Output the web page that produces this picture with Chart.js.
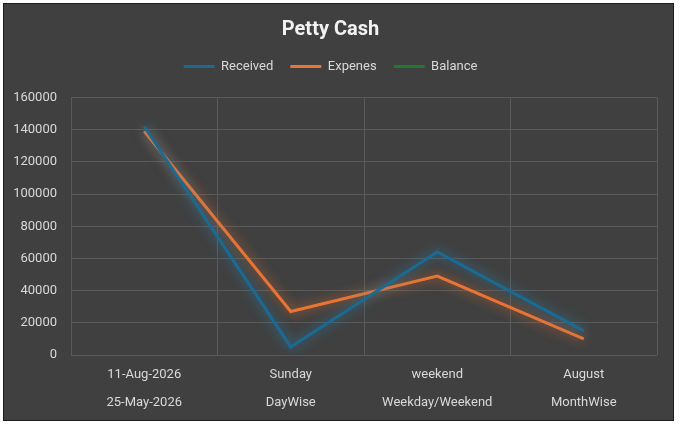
<!DOCTYPE html>
<html>
<head>
<meta charset="utf-8">
<script src="https://cdn.jsdelivr.net/npm/chart.js@4"></script>
<style>
  html, body { margin: 0; padding: 0; background: #ffffff; }
  #frame {
    position: absolute; left: 3px; top: 3px;
    width: 669px; height: 416px;
    background: #404040; border: 1px solid #1c1c1c;
  }
  #wrap { position: absolute; left: 0; top: 0; width: 669px; height: 416px; }
</style>
</head>
<body>
<div id="frame"><div id="wrap"><canvas id="c"></canvas></div></div>
<script>
// ---- data ----
const topLabels = ['11-Aug-2026', 'Sunday', 'weekend', 'August'];
const bottomLabels = ['25-May-2026', 'DayWise', 'Weekday/Weekend', 'MonthWise'];
const received = [142000, 5000, 64000, 15000];
const expenses = [139000, 27000, 49000, 10000];
const balance = [null, null, null, null];
const seriesNames = ['Received', 'Expenes', 'Balance'];
const yMin = 0, yMax = 160000, yStep = 20000;

const labels = topLabels.map((t, i) => [t, bottomLabels[i]]);

const FONT = 'Roboto, "Liberation Sans", sans-serif';
const TEXT = '#d9d9d9';
const GRID = '#5a5a5a';

const glow = {
  id: 'glow',
  beforeDatasetDraw(chart, args) {
    const ds = chart.data.datasets[args.index];
    const ctx = chart.ctx;
    ctx.save();
    ctx.shadowColor = ds.glowColor;
    ctx.shadowBlur = 12;
  },
  afterDatasetDraw(chart) {
    chart.ctx.restore();
  }
};

new Chart(document.getElementById('c'), {
  type: 'line',
  data: {
    labels: labels,
    datasets: [
      { label: seriesNames[0], data: received, borderColor: '#1a6a92', backgroundColor: '#1a6a92', glowColor: 'rgba(40,140,190,0.85)', borderWidth: 3, pointRadius: 0, tension: 0 },
      { label: seriesNames[1], data: expenses, borderColor: '#ea7434', backgroundColor: '#ea7434', glowColor: 'rgba(240,120,50,0.8)', borderWidth: 3, pointRadius: 0, tension: 0 },
      { label: seriesNames[2], data: balance, borderColor: '#1f7a2c', backgroundColor: '#1f7a2c', glowColor: 'rgba(30,120,40,0.8)', borderWidth: 3, pointRadius: 0, tension: 0 }
    ]
  },
  options: {
    responsive: true,
    maintainAspectRatio: false,
    animation: false,
    layout: { padding: { left: 0, right: 16, top: 0, bottom: 0 } },
    plugins: {
      title: {
        display: true,
        text: 'Petty Cash',
        color: '#f2f2f2',
        font: { family: FONT, size: 20, weight: 'bold', lineHeight: 1.2 },
        padding: { top: 14, bottom: 1 }
      },
      legend: {
        display: true,
        labels: {
          color: TEXT,
          font: { family: FONT, size: 13 },
          boxWidth: 31,
          boxHeight: 3,
          padding: 17,
          generateLabels(chart) {
            const items = Chart.defaults.plugins.legend.labels.generateLabels(chart);
            items.forEach(it => { it.lineWidth = 0; it.strokeStyle = 'rgba(0,0,0,0)'; });
            return items;
          }
        }
      },
      tooltip: { enabled: false }
    },
    scales: {
      x: {
        type: 'category',
        position: 'bottom',
        offset: true,
        grid: { display: true, offset: true, color: GRID, lineWidth: 1, drawTicks: false },
        border: { display: false },
        ticks: {
          color: TEXT,
          font: { family: FONT, size: 13, lineHeight: 2.15 },
          padding: 6,
          maxRotation: 0,
          autoSkip: false
        },
        afterFit(scale) { scale.height = 65; }
      },
      spacer: {
        type: 'category',
        position: 'top',
        display: true,
        grid: { display: false, drawTicks: false },
        border: { display: false },
        ticks: { display: false },
        afterFit(scale) { scale.height = 14.5; }
      },
      y: {
        min: yMin,
        max: yMax,
        grid: { color: GRID, lineWidth: 1, drawTicks: false },
        border: { display: false },
        ticks: {
          stepSize: yStep,
          color: TEXT,
          font: { family: FONT, size: 13 },
          padding: 14,
          callback: v => String(v)
        },
        afterFit(scale) { scale.width = 67; }
      }
    }
  },
  plugins: [glow]
});
</script>
</body>
</html>
